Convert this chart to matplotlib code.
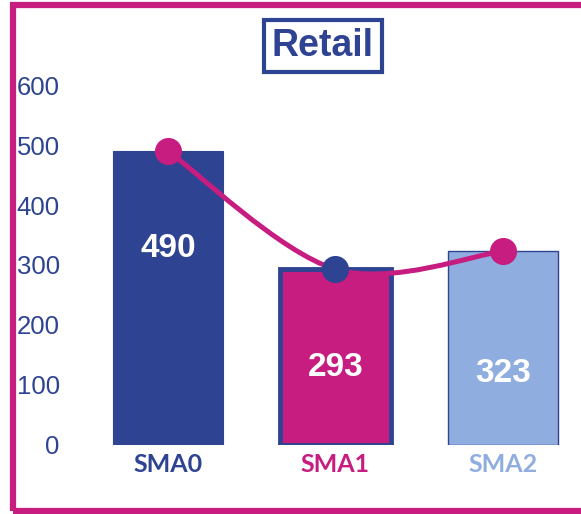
import matplotlib
matplotlib.use("Agg")
import matplotlib.pyplot as plt
from matplotlib.path import Path
from matplotlib.patches import PathPatch, Rectangle
import numpy as np

categories = ["SMA0", "SMA1", "SMA2"]
values = [490, 293, 323]
yticks = [0, 100, 200, 300, 400, 500, 600]
title = "Retail"

DARK = "#2E4392"
MAG = "#C71C80"
LIGHT = "#8FAEDF"
bar_colors = [DARK, MAG, LIGHT]
bar_edges = [DARK, DARK, DARK]
bar_lw = [0.8, 3.5, 1.0]
marker_colors = [MAG, DARK, MAG]
label_colors = [DARK, MAG, LIGHT]
label_y_frac = [0.67, 0.44, 0.37]

W, H = 581, 514
fig = plt.figure(figsize=(W / 100, H / 100), dpi=100)
ax = fig.add_axes([75 / W, (H - 445) / H, 506 / W, 390 / H])
x = np.arange(len(categories))
ax.set_xlim(-0.555, 2.466)
ax.set_ylim(0, 650)

for i, v in enumerate(values):
    ax.bar(x[i], v, width=0.66, color=bar_colors[i], edgecolor=bar_edges[i],
           linewidth=bar_lw[i], zorder=2)
    ax.text(x[i], v * label_y_frac[i], str(v), color="white", ha="center",
            va="center", fontsize=24, fontweight="bold",
            family="Liberation Sans", zorder=5)

# smooth line (Catmull-Rom style bezier through the points)
pts = np.column_stack([x, values]).astype(float)
ext = np.vstack([pts[0], pts, pts[-1]])
verts = [tuple(pts[0])]
codes = [Path.MOVETO]
t = 6.0
for i in range(len(pts) - 1):
    p0, p1, p2, p3 = ext[i], ext[i + 1], ext[i + 2], ext[i + 3]
    c1 = p1 + (p2 - p0) / t
    c2 = p2 - (p3 - p1) / t
    verts += [tuple(c1), tuple(c2), tuple(p2)]
    codes += [Path.CURVE4] * 3
ax.add_patch(PathPatch(Path(verts, codes), facecolor="none", edgecolor=MAG,
                       linewidth=3.6, zorder=3, capstyle="round"))
for i, v in enumerate(values):
    ax.plot(x[i], v, "o", markersize=19.5, color=marker_colors[i],
            markeredgewidth=0, zorder=4)

ax.set_yticks(yticks)
ax.set_yticklabels([str(t_) for t_ in yticks], color=DARK, fontsize=18.5,
                   family="Liberation Sans")
ax.set_xticks(x)
ax.set_xticklabels(categories, fontsize=18, fontweight="bold", family="Lato")
for lab, c in zip(ax.get_xticklabels(), label_colors):
    lab.set_color(c)
ax.tick_params(axis="y", length=0, pad=11)
ax.tick_params(axis="x", length=0, pad=6)
for s in ax.spines.values():
    s.set_visible(False)

# title box
fig.text(323 / W, 1 - 46 / H, title, ha="center", va="center", fontsize=27,
         fontweight="bold", color=DARK, family="Liberation Sans",
         bbox=dict(boxstyle="square,pad=0.22", facecolor="white",
                   edgecolor=DARK, linewidth=3))

# magenta frame
fig.patches.append(Rectangle((13 / W, 3 / H), 600 / W, (H - 8) / H,
                             transform=fig.transFigure, facecolor="none",
                             edgecolor=MAG, linewidth=4.5, zorder=10))

fig.savefig("out.png", dpi=100)
